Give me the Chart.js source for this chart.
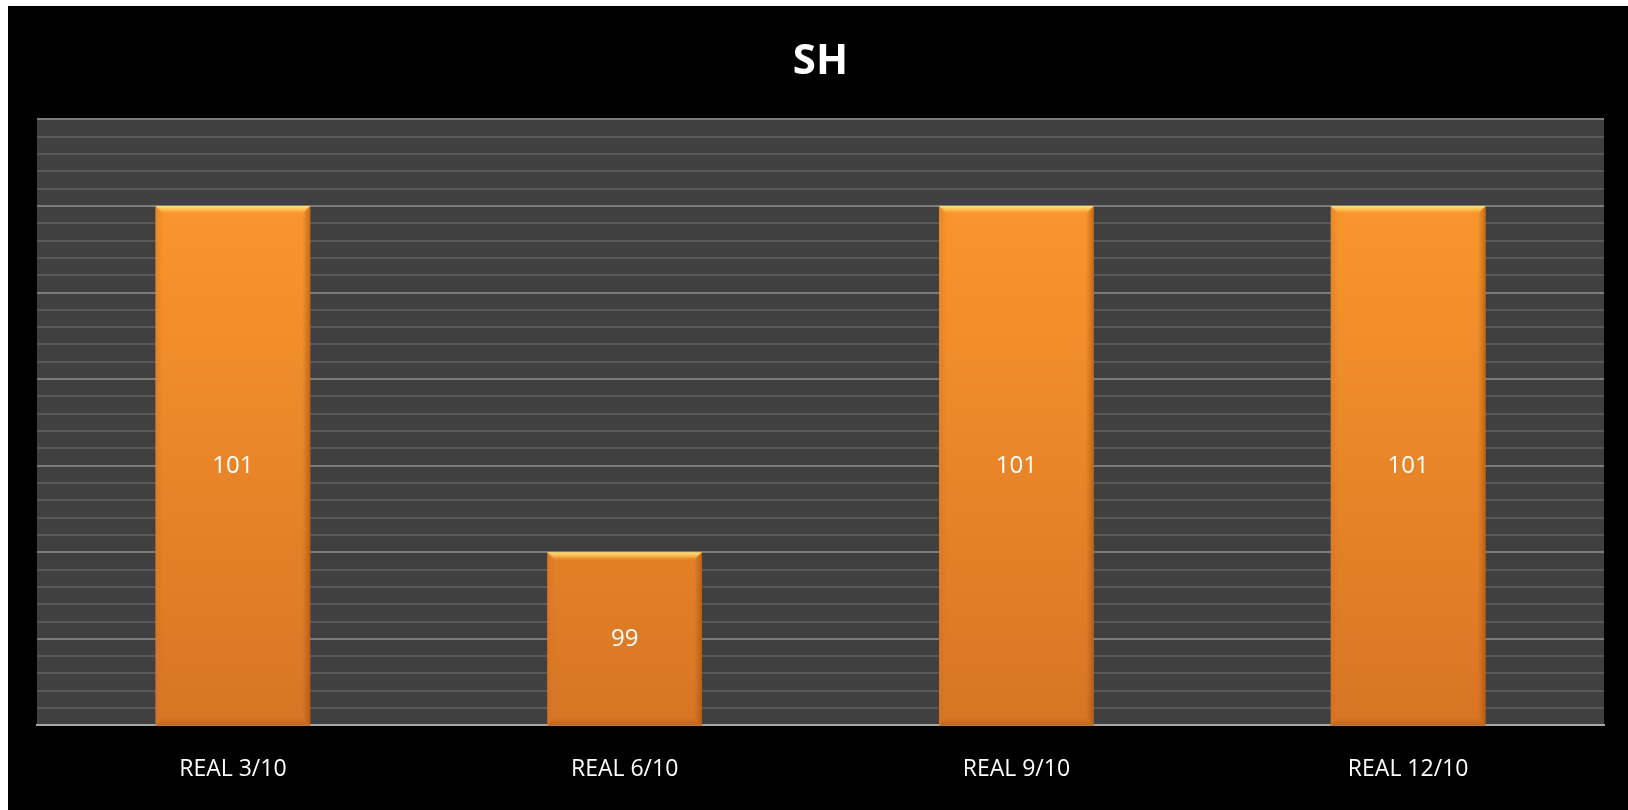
<!DOCTYPE html>
<html>
<head>
<meta charset="utf-8">
<script src="https://cdn.jsdelivr.net/npm/chart.js@4/dist/chart.umd.min.js"></script>
<style>
html,body{margin:0;padding:0;background:#fff;width:1628px;height:810px;overflow:hidden;}
#wrap{position:absolute;left:8px;top:6px;width:1620px;height:804px;background:#000;}
</style>
</head>
<body>
<div id="wrap"><canvas id="c" width="1620" height="804"></canvas></div>
<script>
const title = "SH";
const categories = ["REAL 3/10", "REAL 6/10", "REAL 9/10", "REAL 12/10"];
const values = [101, 99, 101, 101];
const yMin = 98, yMax = 101.5, yStep = 0.1;

const bgPlugin = {
  id: 'bg',
  beforeDraw(chart) {
    const {ctx, chartArea: a} = chart;
    ctx.save();
    ctx.fillStyle = '#404040';
    ctx.fillRect(a.left, a.top, a.right - a.left, a.bottom - a.top);
    ctx.restore();
  }
};

const bevelPlugin = {
  id: 'bevel',
  afterDatasetsDraw(chart) {
    const ctx = chart.ctx;
    const ca = chart.chartArea;
    const meta = chart.getDatasetMeta(0);
    ctx.save();
    meta.data.forEach((bar, i) => {
      const p = bar.getProps(['x', 'y', 'base', 'width'], true);
      const l = p.x - p.width / 2, r = p.x + p.width / 2;
      const t = p.y, b = Math.min(p.base, ca.bottom);
      const e = 8;
      // top bevel
      let g = ctx.createLinearGradient(0, t, 0, t + e);
      g.addColorStop(0, '#ffe680');
      g.addColorStop(0.5, 'rgba(255,200,90,0.7)');
      g.addColorStop(1, 'rgba(255,170,60,0)');
      ctx.fillStyle = g;
      ctx.beginPath();
      ctx.moveTo(l, t); ctx.lineTo(r, t); ctx.lineTo(r - e, t + e); ctx.lineTo(l + e, t + e); ctx.closePath();
      ctx.fill();
      // right edge
      g = ctx.createLinearGradient(r - e, 0, r, 0);
      g.addColorStop(0, 'rgba(160,80,10,0)');
      g.addColorStop(1, 'rgba(150,70,10,0.55)');
      ctx.fillStyle = g;
      ctx.beginPath();
      ctx.moveTo(r, t); ctx.lineTo(r, b); ctx.lineTo(r - e, b - e); ctx.lineTo(r - e, t + e); ctx.closePath();
      ctx.fill();
      // left edge
      g = ctx.createLinearGradient(l, 0, l + e, 0);
      g.addColorStop(0, 'rgba(200,110,30,0.35)');
      g.addColorStop(1, 'rgba(200,110,30,0)');
      ctx.fillStyle = g;
      ctx.beginPath();
      ctx.moveTo(l, t); ctx.lineTo(l, b); ctx.lineTo(l + e, b - e); ctx.lineTo(l + e, t + e); ctx.closePath();
      ctx.fill();
      // bottom edge
      g = ctx.createLinearGradient(0, b - e, 0, b);
      g.addColorStop(0, 'rgba(170,85,15,0)');
      g.addColorStop(1, 'rgba(170,85,15,0.5)');
      ctx.fillStyle = g;
      ctx.beginPath();
      ctx.moveTo(l, b); ctx.lineTo(r, b); ctx.lineTo(r - e, b - e); ctx.lineTo(l + e, b - e); ctx.closePath();
      ctx.fill();
      // label
      ctx.fillStyle = '#ffffff';
      ctx.font = '24px "Open Sans", sans-serif';
      ctx.textAlign = 'center';
      ctx.textBaseline = 'middle';
      ctx.fillText(String(values[i]), p.x, (t + b) / 2);
    });
    ctx.restore();
  }
};

new Chart(document.getElementById('c'), {
  type: 'bar',
  data: {
    labels: categories,
    datasets: [{
      data: values,
      barPercentage: 0.395,
      categoryPercentage: 1,
      backgroundColor(ctx) {
        const ca = ctx.chart.chartArea;
        if (!ca) return '#f08a2a';
        const g = ctx.chart.ctx.createLinearGradient(0, ca.top, 0, ca.bottom);
        g.addColorStop(0, '#ff9b2e');
        g.addColorStop(1, '#d87524');
        return g;
      },
      borderWidth: 0
    }]
  },
  options: {
    responsive: false,
    animation: false,
    layout: {padding: {left: 29, right: 24, top: 0, bottom: -3}},
    plugins: {
      legend: {display: false},
      tooltip: {enabled: false},
      title: {
        display: true,
        text: title,
        color: '#ffffff',
        font: {family: '"Open Sans", sans-serif', size: 42, weight: 'bold'},
        padding: {top: 31, bottom: 32}
      }
    },
    scales: {
      x: {
        grid: {display: false, drawTicks: false},
        border: {display: true, color: '#a6a6a6', width: 2},
        ticks: {color: '#ffffff', font: {family: '"Open Sans", sans-serif', size: 23}, padding: 30}
      },
      y: {
        min: yMin, max: yMax,
        ticks: {display: false, stepSize: yStep},
        border: {display: false},
        grid: {
          drawTicks: false,
          lineWidth: 2,
          color(ctx) {
            const v = Math.round(ctx.tick.value * 10);
            if (v === yMin * 10) return 'rgba(0,0,0,0)';
            return v % 5 === 0 ? '#7c7c7c' : '#595959';
          }
        }
      }
    }
  },
  plugins: [bgPlugin, bevelPlugin]
});
</script>
</body>
</html>
